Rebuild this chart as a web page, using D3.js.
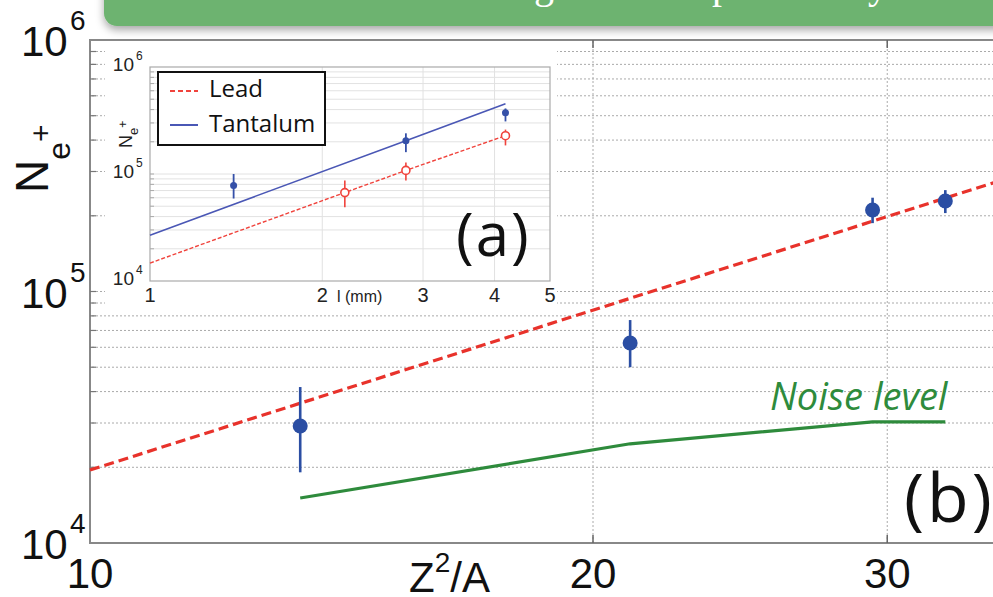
<!DOCTYPE html>
<html lang="en">
<head>
<meta charset="UTF-8">
<title>Positron yield vs Z2/A</title>
<script src="https://d3js.org/d3.v7.min.js"></script>
<style>
  body { margin: 0; background: #fff; }
  svg { display: block; }
  .tick-main { font-family: "Liberation Sans", Arial, sans-serif; fill: #111; }
  .tick-inset { font-family: "Liberation Sans", Arial, sans-serif; fill: #222; }
  .ob { font-family: "Open Sans", sans-serif; }
</style>
</head>
<body>
<svg id="chart" width="993" height="597"></svg>
<script>
// ---- main panel (b) data ----
const mainXTicks = [10, 20, 30];
const mainYTicks = [1e4, 1e5, 1e6];
const mainYExp = ["4", "5", "6"];
const zOverA = [13.36, 21.05, 29.4, 32.5];
const yieldMeas = [2.92e4, 6.24e4, 2.11e5, 2.29e5];
const yieldHi = [4.17e4, 7.7e4, 2.36e5, 2.53e5];
const yieldLo = [1.91e4, 5.0e4, 1.87e5, 2.05e5];
const noiseLevel = [1.51e4, 2.48e4, 3.03e4, 3.03e4];
const leadFitX = [10, 35];
const leadFitY = [1.95e4, 2.75e5];

// ---- inset panel (a) data ----
const insetXTicks = [1, 2, 3, 4, 5];
const insetYTicks = [1e4, 1e5, 1e6];
const insetYExp = ["4", "5", "6"];
const taThick = [1.40, 2.80, 4.18];
const taYield = [7.8e4, 2.05e5, 3.73e5];
const taHi = [1.0e5, 2.4e5, 4.1e5];
const taLo = [5.9e4, 1.6e5, 3.1e5];
const pbThick = [2.19, 2.80, 4.18];
const pbYield = [6.7e4, 1.08e5, 2.28e5];
const pbHi = [8.7e4, 1.28e5, 2.6e5];
const pbLo = [4.9e4, 8.7e4, 1.85e5];
const taFitX = [1, 2.80, 4.18];
const taFitY = [2.68e4, 2.05e5, 4.53e5];
const pbFitX = [1, 2.80, 4.18];
const pbFitY = [1.47e4, 1.08e5, 2.28e5];
const legendNames = ["Lead", "Tantalum"];

const svg = d3.select("#chart");
const blue = "#2b4ea3", red = "#e8322b", green = "#2e8b3c";

// scales
const x = d3.scaleLog().domain([10, 40]).range([90, 1096]);
const y = d3.scaleLog().domain([1e4, 1e6]).range([543, 40]);

const defs = svg.append("defs");
const f = defs.append("filter").attr("id", "shadow").attr("x", "-5%").attr("y", "-20%").attr("width", "110%").attr("height", "160%");
f.append("feDropShadow").attr("dx", 0).attr("dy", 4).attr("stdDeviation", 4).attr("flood-color", "#000").attr("flood-opacity", 0.35);

// dotted grid
const yGrid = y.ticks().filter(v => v > 1e4 && v < 1e6);
svg.append("g").selectAll("line").data(yGrid).join("line")
  .attr("x1", 92).attr("x2", 993)
  .attr("y1", d => y(d)).attr("y2", d => y(d))
  .attr("stroke", "#aaa").attr("stroke-width", 1).attr("stroke-dasharray", "2,2");
svg.append("g").selectAll("line").data(mainXTicks.slice(1)).join("line")
  .attr("x1", d => x(d)).attr("x2", d => x(d))
  .attr("y1", 41).attr("y2", 542)
  .attr("stroke", "#aaa").attr("stroke-width", 1).attr("stroke-dasharray", "2,2");

// frame
svg.append("path").attr("d", `M1000,40 H90 V543 H1000`)
  .attr("fill", "none").attr("stroke", "#888").attr("stroke-width", 2);
svg.append("g").selectAll("line").data(mainXTicks.slice(1)).join("line")
  .attr("x1", d => x(d)).attr("x2", d => x(d)).attr("y1", 40).attr("y2", 48)
  .attr("stroke", "#666").attr("stroke-width", 1.5);
svg.append("g").selectAll("line").data(mainXTicks.slice(1)).join("line")
  .attr("x1", d => x(d)).attr("x2", d => x(d)).attr("y1", 543).attr("y2", 535)
  .attr("stroke", "#666").attr("stroke-width", 1.5);
svg.append("g").selectAll("line").data(yGrid).join("line")
  .attr("x1", 90).attr("x2", 96).attr("y1", d => y(d)).attr("y2", d => y(d))
  .attr("stroke", "#777").attr("stroke-width", 1.2);

// slide banner at the top (title cut off by the crop)
svg.append("rect").attr("x", 104).attr("y", -30).attr("width", 930).attr("height", 56)
  .attr("rx", 13).attr("fill", "#6db370").attr("filter", "url(#shadow)");
const title = svg.append("text").attr("y", -2).attr("fill", "#fff")
  .attr("font-family", "Liberation Serif, serif").attr("font-size", 40);
title.append("tspan").attr("x", 534).text("g");
title.append("tspan").attr("x", 712).text("p");
title.append("tspan").attr("x", 868).text("y");

// main axis labels
const xl = svg.append("g").attr("class", "tick-main");
xl.selectAll("text").data(mainXTicks).join("text")
  .attr("x", d => x(d)).attr("y", 588).attr("text-anchor", "middle")
  .attr("font-size", 42).text(d => d);
const xt = xl.append("text").attr("x", 409).attr("y", 592).attr("font-size", 42);
xt.append("tspan").text("Z");
xt.append("tspan").attr("font-size", 28).attr("dy", -20).text("2");
xt.append("tspan").attr("dy", 20).text("/A");

const yl = svg.append("g").attr("class", "tick-main");
mainYTicks.forEach((v, i) => {
  yl.append("text").attr("x", 21).attr("y", y(v) + 16).attr("font-size", 42).text("10");
  yl.append("text").attr("x", 70).attr("y", y(v) - 10).attr("font-size", 28).text(mainYExp[i]);
});
const ylab = yl.append("text").attr("transform", "translate(48,193) rotate(-90)").attr("font-size", 46);
ylab.append("tspan").text("N");
ylab.append("tspan").attr("font-size", 32).attr("dy", 22).text("e");
ylab.append("tspan").attr("font-size", 30).attr("dy", -19).text("+");

// lead fit (dashed red)
const fitLine = d3.line().x(d => x(d[0])).y(d => y(d[1]));
svg.append("path").datum(d3.zip(leadFitX, leadFitY))
  .attr("d", fitLine).attr("fill", "none").attr("stroke", red)
  .attr("stroke-width", 3.2).attr("stroke-dasharray", "10,5");

// noise level (green)
svg.append("path").datum(d3.zip(zOverA, noiseLevel))
  .attr("d", fitLine).attr("fill", "none").attr("stroke", green).attr("stroke-width", 3.2);
svg.append("text").attr("class", "ob").attr("x", 770).attr("y", 410)
  .attr("font-size", 38).attr("font-style", "italic")
  .attr("fill", green).text("Noise level");

// measured points with error bars
const pts = svg.append("g");
pts.selectAll("line").data(zOverA).join("line")
  .attr("x1", d => x(d)).attr("x2", d => x(d))
  .attr("y1", (d, i) => y(yieldHi[i])).attr("y2", (d, i) => y(yieldLo[i]))
  .attr("stroke", blue).attr("stroke-width", 2.6);
pts.selectAll("circle").data(zOverA).join("circle")
  .attr("cx", d => x(d)).attr("cy", (d, i) => y(yieldMeas[i])).attr("r", 7.5).attr("fill", blue);

svg.append("text").attr("class", "ob").attr("x", 904).attr("y", 522)
  .attr("font-size", 68).attr("letter-spacing", 3).attr("fill", "#111").text("(b)");

// ---------------- inset (a) ----------------
const ix = d3.scaleLog().domain([1, 5]).range([150, 550]);
const iy = d3.scaleLog().domain([1e4, 1e6]).range([281, 67]);
const inset = svg.append("g");
inset.append("rect").attr("x", 105).attr("y", 42).attr("width", 452).attr("height", 268).attr("fill", "#fff");

const iyGrid = iy.ticks().filter(v => v > 1e4 && v < 1e6);
inset.append("g").selectAll("line").data(iyGrid).join("line")
  .attr("x1", 150).attr("x2", 550).attr("y1", d => iy(d)).attr("y2", d => iy(d))
  .attr("stroke", "#e2e2e2").attr("stroke-width", 1);
inset.append("g").selectAll("line").data(insetXTicks.slice(1, 4)).join("line")
  .attr("x1", d => ix(d)).attr("x2", d => ix(d)).attr("y1", 67).attr("y2", 281)
  .attr("stroke", "#e2e2e2").attr("stroke-width", 1);
inset.append("g").selectAll("line").data(iyGrid).join("line")
  .attr("x1", 150).attr("x2", 154).attr("y1", d => iy(d)).attr("y2", d => iy(d))
  .attr("stroke", "#aaa").attr("stroke-width", 1);
inset.append("rect").attr("x", 150).attr("y", 67).attr("width", 400).attr("height", 214)
  .attr("fill", "none").attr("stroke", "#aaa").attr("stroke-width", 1.2);

// inset tick labels
const itl = inset.append("g").attr("class", "tick-inset");
itl.selectAll("text.xt").data(insetXTicks).join("text").attr("class", "xt")
  .attr("x", d => ix(d)).attr("y", 302).attr("text-anchor", "middle")
  .attr("font-size", 20).text(d => d);
itl.append("text").attr("x", 337).attr("y", 302).attr("font-size", 16).text("l (mm)");
insetYTicks.forEach((v, i) => {
  itl.append("text").attr("x", 134).attr("y", iy(v) + 4).attr("text-anchor", "end").attr("font-size", 19).text("10");
  itl.append("text").attr("x", 136).attr("y", iy(v) - 7).attr("font-size", 12).text(insetYExp[i]);
});
const iylab = itl.append("text").attr("transform", "translate(132,148) rotate(-90)").attr("font-size", 18);
iylab.append("tspan").text("N");
iylab.append("tspan").attr("font-size", 13).attr("dy", 6).text("e");
iylab.append("tspan").attr("font-size", 12).attr("dy", -11).text("+");

// inset fits
const iLine = d3.line().x(d => ix(d[0])).y(d => iy(d[1]));
inset.append("path").datum(d3.zip(taFitX, taFitY)).attr("d", iLine)
  .attr("fill", "none").attr("stroke", "#4a57b5").attr("stroke-width", 1.6);
inset.append("path").datum(d3.zip(pbFitX, pbFitY)).attr("d", iLine)
  .attr("fill", "none").attr("stroke", "#f0433c").attr("stroke-width", 1.4).attr("stroke-dasharray", "4,2");

// inset points
inset.append("g").selectAll("line").data(taThick).join("line")
  .attr("x1", d => ix(d)).attr("x2", d => ix(d))
  .attr("y1", (d, i) => iy(taHi[i])).attr("y2", (d, i) => iy(taLo[i]))
  .attr("stroke", "#3550a8").attr("stroke-width", 1.8);
inset.append("g").selectAll("circle").data(taThick).join("circle")
  .attr("cx", d => ix(d)).attr("cy", (d, i) => iy(taYield[i])).attr("r", 3.5).attr("fill", "#3550a8");
inset.append("g").selectAll("line").data(pbThick).join("line")
  .attr("x1", d => ix(d)).attr("x2", d => ix(d))
  .attr("y1", (d, i) => iy(pbHi[i])).attr("y2", (d, i) => iy(pbLo[i]))
  .attr("stroke", "#f0433c").attr("stroke-width", 1.6);
inset.append("g").selectAll("circle").data(pbThick).join("circle")
  .attr("cx", d => ix(d)).attr("cy", (d, i) => iy(pbYield[i])).attr("r", 4)
  .attr("fill", "#fff").attr("stroke", "#f0433c").attr("stroke-width", 1.6);

// legend
const lg = inset.append("g");
lg.append("rect").attr("x", 158).attr("y", 72).attr("width", 167).attr("height", 73)
  .attr("fill", "#fff").attr("stroke", "#111").attr("stroke-width", 2);
legendNames.forEach((name, i) => {
  const yy = 91 + i * 34;
  lg.append("line").attr("x1", 170).attr("x2", 198).attr("y1", yy).attr("y2", yy)
    .attr("stroke", i === 0 ? "#f0433c" : "#4a57b5").attr("stroke-width", 2)
    .attr("stroke-dasharray", i === 0 ? "5,3" : null);
  lg.append("text").attr("class", "ob").attr("x", 209).attr("y", 97 + i * 35)
    .attr("font-size", 24).attr("fill", "#111").text(name);
});

inset.append("text").attr("class", "ob").attr("x", 456).attr("y", 256)
  .attr("font-size", 60).attr("letter-spacing", 2).attr("fill", "#111").text("(a)");
</script>
</body>
</html>
